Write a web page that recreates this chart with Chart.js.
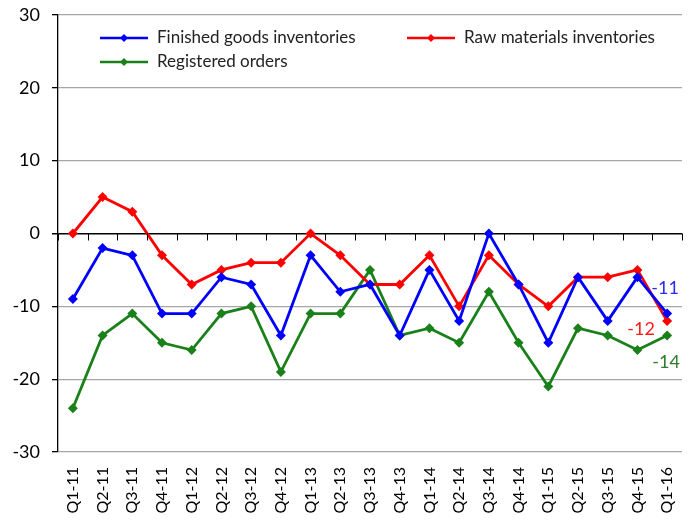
<!DOCTYPE html>
<html>
<head>
<meta charset="utf-8">
<script src="https://cdn.jsdelivr.net/npm/chart.js@4/dist/chart.umd.min.js"></script>
<style>
html,body{margin:0;padding:0;background:#fff;}
#wrap{width:692px;height:522px;}
</style>
</head>
<body>
<div id="wrap"><canvas id="c" width="692" height="522"></canvas></div>
<script>
const categories = ["Q1-11","Q2-11","Q3-11","Q4-11","Q1-12","Q2-12","Q3-12","Q4-12","Q1-13","Q2-13","Q3-13","Q4-13","Q1-14","Q2-14","Q3-14","Q4-14","Q1-15","Q2-15","Q3-15","Q4-15","Q1-16"];
const finishedGoods = [-9,-2,-3,-11,-11,-6,-7,-14,-3,-8,-7,-14,-5,-12,0,-7,-15,-6,-12,-6,-11];
const rawMaterials = [0,5,3,-3,-7,-5,-4,-4,0,-3,-7,-7,-3,-10,-3,-7,-10,-6,-6,-5,-12];
const registeredOrders = [-24,-14,-11,-15,-16,-11,-10,-19,-11,-11,-5,-14,-13,-15,-8,-15,-21,-13,-14,-16,-14];
const seriesNames = ["Finished goods inventories","Raw materials inventories","Registered orders"];
const yTicks = [30,20,10,0,-10,-20,-30];

const FONT = "Lato, 'Open Sans', sans-serif";

const legendPos = [
  {x:100, y:38},
  {x:407, y:38},
  {x:100, y:62}
];
const endLabelOffsets = [
  {dx:-2, dy:-25},
  {dx:-26, dy:8},
  {dx:-1, dy:27}
];
const endLabelColors = ["#2b2bff","#ff1a1a","#2e7d2e"];

const extrasPlugin = {
  id:'extras',
  afterDatasetsDraw(chart){
    const ctx = chart.ctx;
    const xs = chart.scales.x, ys = chart.scales.y;
    const y0 = ys.getPixelForValue(0);
    ctx.save();
    ctx.strokeStyle = '#000';
    ctx.lineWidth = 1;
    const step = xs.getPixelForValue(1) - xs.getPixelForValue(0);
    for(let i=0;i<=categories.length;i++){
      const px = Math.round(xs.getPixelForValue(0) - step/2 + i*step) + 0.5;
      ctx.beginPath();
      ctx.moveTo(px, y0);
      ctx.lineTo(px, y0+7);
      ctx.stroke();
    }
    ctx.restore();
    ctx.save();
    ctx.font = "18px " + FONT;
    ctx.textAlign = 'center';
    ctx.textBaseline = 'middle';
    chart.data.datasets.forEach((ds, i) => {
      const n = ds.data.length - 1;
      const px = xs.getPixelForValue(n);
      const py = ys.getPixelForValue(ds.data[n]);
      ctx.fillStyle = endLabelColors[i];
      ctx.fillText(String(ds.data[n]), px + endLabelOffsets[i].dx, py + endLabelOffsets[i].dy);
    });
    ctx.restore();
    ctx.save();
    ctx.font = "17px " + FONT;
    ctx.textBaseline = 'middle';
    ctx.textAlign = 'left';
    chart.data.datasets.forEach((ds, i) => {
      const p = legendPos[i];
      ctx.strokeStyle = ds.borderColor;
      ctx.lineWidth = 2.5;
      ctx.beginPath();
      ctx.moveTo(p.x, p.y);
      ctx.lineTo(p.x+48, p.y);
      ctx.stroke();
      ctx.fillStyle = ds.borderColor;
      ctx.beginPath();
      const cx = p.x+24, r = 4;
      ctx.moveTo(cx, p.y-r); ctx.lineTo(cx+r, p.y); ctx.lineTo(cx, p.y+r); ctx.lineTo(cx-r, p.y); ctx.closePath();
      ctx.fill();
      ctx.fillStyle = '#222';
      ctx.fillText(ds.label, p.x+57, p.y);
    });
    ctx.restore();
  }
};

const mk = (label, data, color) => ({
  label, data,
  borderColor: color, backgroundColor: color,
  borderWidth: 2.8,
  pointStyle: 'rectRot', pointRadius: 5, pointHoverRadius: 5,
  pointBorderWidth: 0,
  tension: 0, fill: false
});

new Chart(document.getElementById('c'), {
  type: 'line',
  data: {
    labels: categories,
    datasets: [
      mk(seriesNames[0], finishedGoods, '#0000ff'),
      mk(seriesNames[1], rawMaterials, '#ff0000'),
      mk(seriesNames[2], registeredOrders, '#1a801a')
    ]
  },
  options: {
    responsive: false,
    animation: false,
    devicePixelRatio: 1,
    layout: { padding: { top: 15, right: 10, left: 0, bottom: 0 } },
    plugins: { legend: { display: false }, tooltip: { enabled: false } },
    scales: {
      x: {
        offset: true,
        grid: { display: false, drawTicks: false },
        border: { display: false },
        ticks: {
          minRotation: 90, maxRotation: 90, autoSkip: false,
          padding: 15,
          color: '#000',
          font: { family: FONT, size: 16 }
        },
        afterFit(scale){ scale.height = 522 - 452; scale.paddingLeft = 0; scale.paddingRight = 0; }
      },
      y: {
        min: -30, max: 30,
        afterBuildTicks(scale){ scale.ticks = yTicks.map(v => ({value: v})); },
        grid: {
          color: ctx => (ctx.tick && ctx.tick.value === 0) ? '#000' : '#a6a6a6',
          lineWidth: ctx => (ctx.tick && ctx.tick.value === 0) ? 1.5 : 1.3,
          tickColor: '#000',
          tickLength: 6,
          drawTicks: true
        },
        border: { display: true, color: '#000', width: 1.3 },
        ticks: {
          color: '#000',
          padding: 12,
          font: { family: FONT, size: 18 }
        },
        afterFit(scale){ scale.width = 58; scale.paddingTop = 0; scale.paddingBottom = 0; }
      }
    }
  },
  plugins: [extrasPlugin]
});
</script>
</body>
</html>
